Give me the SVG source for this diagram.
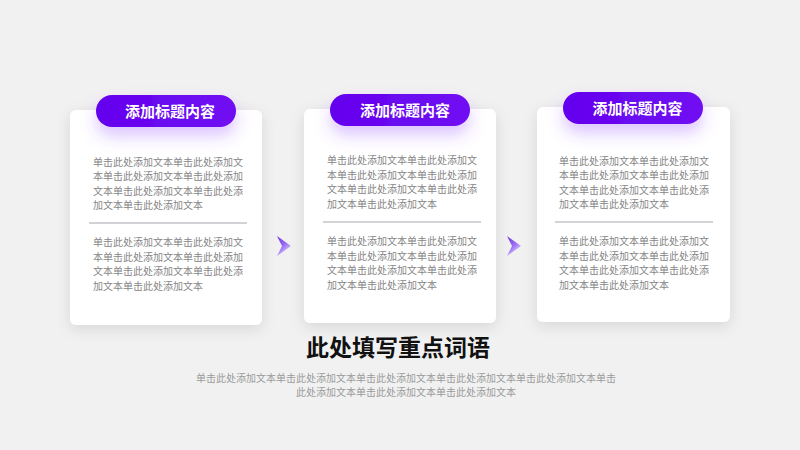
<svg xmlns="http://www.w3.org/2000/svg" width="800" height="450" viewBox="0 0 800 450">
<defs>
<filter id="cardShadow" x="-20%" y="-20%" width="140%" height="140%">
<feDropShadow dx="0" dy="4" stdDeviation="7" flood-color="#000" flood-opacity="0.11"/>
</filter>
<filter id="pillGlow" x="-30%" y="-60%" width="160%" height="260%">
<feDropShadow dx="0" dy="9" stdDeviation="8" flood-color="#8a3cff" flood-opacity="0.3"/>
</filter>
<linearGradient id="pillGrad" x1="0" y1="0" x2="1" y2="0">
<stop offset="0" stop-color="#6400ee"/>
<stop offset="1" stop-color="#7010f2"/>
</linearGradient>
<linearGradient id="arrowGrad" x1="0" y1="0" x2="0.6" y2="1">
<stop offset="0" stop-color="#6a2ef0"/>
<stop offset="0.55" stop-color="#9a6ef5"/>
<stop offset="1" stop-color="#e2d6fb"/>
</linearGradient>
</defs>
<style>
.card{fill:#ffffff;filter:url(#cardShadow)}
.pill{fill:url(#pillGrad);filter:url(#pillGlow)}
.ttl{font-family:"Noto Sans CJK SC","Noto Sans",sans-serif;font-size:15px;font-weight:bold;fill:#ffffff;text-anchor:middle}
.body{font-family:"Noto Sans CJK SC","Noto Sans",sans-serif;font-size:10px;fill:#858585}
.div{stroke:#a8a8b0;stroke-width:1.2}
.arrow{fill:url(#arrowGrad)}
.head{font-family:"Noto Sans CJK SC","Noto Sans",sans-serif;font-size:23px;font-weight:bold;fill:#111111;text-anchor:middle}
.sub{font-family:"Noto Sans CJK SC","Noto Sans",sans-serif;font-size:10px;fill:#9a9a9a;text-anchor:middle}
</style>
<rect width="800" height="450" fill="#f1f1f1"/>

<g id="card1">
<rect class="card" x="70" y="110" width="192" height="215" rx="6"/>
<rect class="pill" x="96" y="95" width="140" height="32" rx="16"/>
<text class="ttl" x="170" y="116.5">添加标题内容</text>
<text class="body" x="93" y="165.5">单击此处添加文本单击此处添加文</text>
<text class="body" x="93" y="180">本单击此处添加文本单击此处添加</text>
<text class="body" x="93" y="194.5">文本单击此处添加文本单击此处添</text>
<text class="body" x="93" y="209">加文本单击此处添加文本</text>
<line class="div" x1="89" y1="223" x2="247" y2="223"/>
<text class="body" x="93" y="246">单击此处添加文本单击此处添加文</text>
<text class="body" x="93" y="260.5">本单击此处添加文本单击此处添加</text>
<text class="body" x="93" y="275">文本单击此处添加文本单击此处添</text>
<text class="body" x="93" y="289.5">加文本单击此处添加文本</text>
</g>

<g id="card2">
<rect class="card" x="304" y="109" width="192" height="214" rx="6"/>
<rect class="pill" x="330" y="94" width="140" height="32" rx="16"/>
<text class="ttl" x="405" y="115.5">添加标题内容</text>
<text class="body" x="327" y="164">单击此处添加文本单击此处添加文</text>
<text class="body" x="327" y="178.5">本单击此处添加文本单击此处添加</text>
<text class="body" x="327" y="193">文本单击此处添加文本单击此处添</text>
<text class="body" x="327" y="207.5">加文本单击此处添加文本</text>
<line class="div" x1="323" y1="222" x2="481" y2="222"/>
<text class="body" x="327" y="245">单击此处添加文本单击此处添加文</text>
<text class="body" x="327" y="259.5">本单击此处添加文本单击此处添加</text>
<text class="body" x="327" y="274">文本单击此处添加文本单击此处添</text>
<text class="body" x="327" y="288.5">加文本单击此处添加文本</text>
</g>

<g id="card3">
<rect class="card" x="537" y="107" width="193" height="215" rx="6"/>
<rect class="pill" x="563" y="92" width="140" height="32" rx="16"/>
<text class="ttl" x="637.5" y="113.5">添加标题内容</text>
<text class="body" x="559" y="164.5">单击此处添加文本单击此处添加文</text>
<text class="body" x="559" y="179">本单击此处添加文本单击此处添加</text>
<text class="body" x="559" y="193.5">文本单击此处添加文本单击此处添</text>
<text class="body" x="559" y="208">加文本单击此处添加文本</text>
<line class="div" x1="555" y1="222" x2="713" y2="222"/>
<text class="body" x="559" y="245">单击此处添加文本单击此处添加文</text>
<text class="body" x="559" y="259.5">本单击此处添加文本单击此处添加</text>
<text class="body" x="559" y="274">文本单击此处添加文本单击此处添</text>
<text class="body" x="559" y="288.5">加文本单击此处添加文本</text>
</g>

<g id="connectors">
<path class="arrow" d="M277 236 L291 246 L277 256 L282 246 Z"/>
<path class="arrow" d="M507 236 L521 246 L507 256 L512 246 Z"/>
</g>

<g id="summary">
<text class="head" x="398" y="356">此处填写重点词语</text>
<text class="sub" x="406" y="381.5">单击此处添加文本单击此处添加文本单击此处添加文本单击此处添加文本单击此处添加文本单击</text>
<text class="sub" x="406" y="395.5">此处添加文本单击此处添加文本单击此处添加文本</text>
</g>
</svg>
